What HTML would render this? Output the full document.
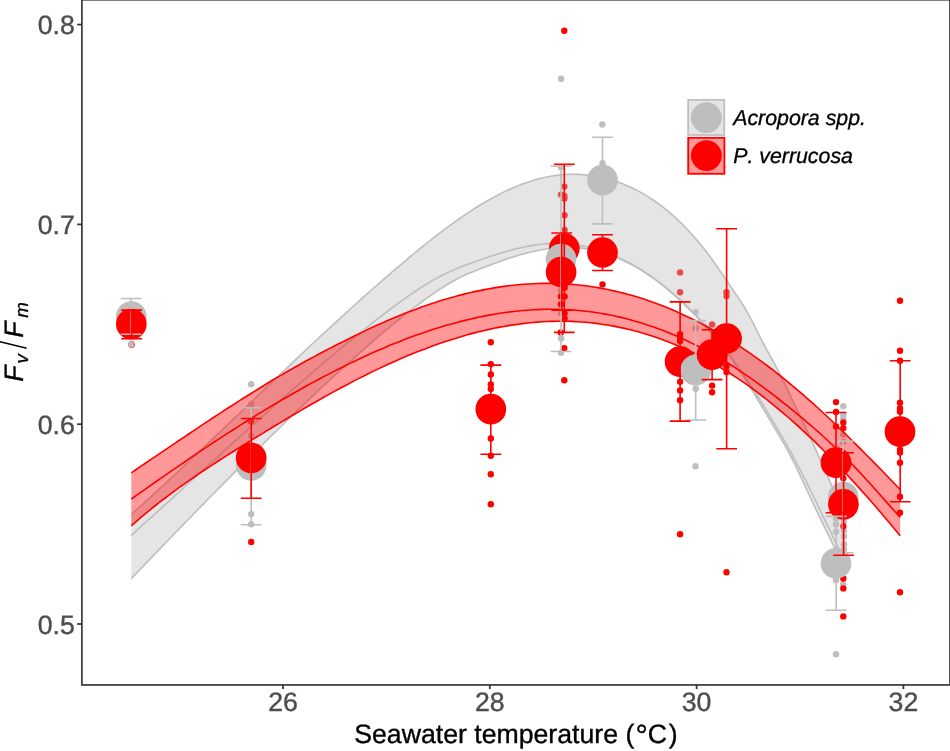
<!DOCTYPE html>
<html lang="en">
<head>
<meta charset="utf-8">
<title>Fv/Fm vs seawater temperature</title>
<style>
html,body{margin:0;padding:0;background:#fff;}
body{width:950px;height:751px;overflow:hidden;font-family:"Liberation Sans",Arial,sans-serif;}
svg{display:block;will-change:transform;}
svg text{font-kerning:none;text-rendering:geometricPrecision;}
</style>
</head>
<body>
<svg width="950" height="751" viewBox="0 0 950 751" font-family="'Liberation Sans', Arial, sans-serif">
<rect width="950" height="751" fill="#fff"/>
<defs><clipPath id="pc"><rect x="82" y="0" width="867.5" height="685"/></clipPath></defs>
<g clip-path="url(#pc)">
<circle cx="131.5" cy="344.5" r="3.35" fill="#ff0000"/>
<g fill="#bebebe"><circle cx="131.2" cy="344.5" r="3.0"/><circle cx="251.2" cy="384.2" r="3.2"/><circle cx="251.3" cy="404.3" r="3.2"/><circle cx="251.2" cy="436.0" r="3.2"/><circle cx="251.2" cy="514.1" r="3.2"/><circle cx="251.2" cy="524.2" r="3.2"/><circle cx="561.1" cy="78.7" r="3.2"/><circle cx="561" cy="167.3" r="3.2"/><circle cx="561" cy="290.7" r="3.2"/><circle cx="561" cy="312.9" r="3.2"/><circle cx="561.1" cy="338.5" r="3.2"/><circle cx="561.1" cy="352.7" r="3.2"/><circle cx="602.3" cy="124.5" r="3.2"/><circle cx="602.5" cy="163.2" r="3.2"/><circle cx="695.7" cy="312.1" r="3.2"/><circle cx="695.7" cy="328.2" r="3.2"/><circle cx="695.7" cy="388.7" r="3.2"/><circle cx="695.5" cy="466.2" r="3.2"/><circle cx="843.3" cy="406.3" r="3.2"/><circle cx="843.3" cy="414.6" r="3.2"/><circle cx="843.3" cy="418.4" r="3.2"/><circle cx="843.3" cy="434.5" r="3.2"/><circle cx="843.3" cy="442.3" r="3.2"/><circle cx="836" cy="518.6" r="3.2"/><circle cx="836" cy="524.2" r="3.2"/><circle cx="836" cy="531.8" r="3.2"/><circle cx="844.0" cy="521.5" r="3.2"/><circle cx="844.0" cy="530.6" r="3.2"/><circle cx="844.0" cy="536.4" r="3.2"/><circle cx="844.0" cy="544.2" r="3.2"/><circle cx="844.0" cy="549.5" r="3.2"/><circle cx="843.2" cy="584.2" r="3.2"/><circle cx="836" cy="580.2" r="3.2"/><circle cx="836" cy="654.2" r="3.2"/></g>
<g fill="#ff0000"><circle cx="251.2" cy="542" r="3.2"/><circle cx="251.2" cy="421.6" r="3.2"/><circle cx="490.8" cy="342.2" r="3.2"/><circle cx="490.8" cy="364.1" r="3.2"/><circle cx="490.8" cy="374.4" r="3.2"/><circle cx="490.8" cy="384.4" r="3.2"/><circle cx="490.8" cy="388.9" r="3.2"/><circle cx="490.8" cy="438.4" r="3.2"/><circle cx="490.8" cy="455.8" r="3.2"/><circle cx="490.8" cy="474.3" r="3.2"/><circle cx="490.8" cy="504.2" r="3.2"/><circle cx="564.3" cy="30.8" r="3.2"/><circle cx="561" cy="194.6" r="3.2"/><circle cx="564.4" cy="186.6" r="3.2"/><circle cx="564.4" cy="195.9" r="3.2"/><circle cx="564.4" cy="198.4" r="3.2"/><circle cx="564.6" cy="215.3" r="3.2"/><circle cx="564.6" cy="230" r="3.2"/><circle cx="564.6" cy="287.8" r="3.2"/><circle cx="564.6" cy="296.4" r="3.2"/><circle cx="561" cy="296.4" r="3.2"/><circle cx="561" cy="304.2" r="3.2"/><circle cx="564.6" cy="312.9" r="3.2"/><circle cx="564.6" cy="318.4" r="3.2"/><circle cx="560.8" cy="332.4" r="3.2"/><circle cx="564.3" cy="348.3" r="3.2"/><circle cx="564.3" cy="380.3" r="3.2"/><circle cx="602.5" cy="284.4" r="3.2"/><circle cx="680.1" cy="272.4" r="3.2"/><circle cx="680.1" cy="292.3" r="3.2"/><circle cx="680.1" cy="334.2" r="3.2"/><circle cx="680.1" cy="337.7" r="3.2"/><circle cx="680.1" cy="341" r="3.2"/><circle cx="680.1" cy="381.8" r="3.2"/><circle cx="680.1" cy="390.4" r="3.2"/><circle cx="680.1" cy="400.3" r="3.2"/><circle cx="680.1" cy="534.3" r="3.2"/><circle cx="712.1" cy="324.5" r="3.2"/><circle cx="712.1" cy="385.6" r="3.2"/><circle cx="712.1" cy="392.2" r="3.2"/><circle cx="726.5" cy="292.3" r="3.2"/><circle cx="726.5" cy="296" r="3.2"/><circle cx="726.5" cy="366.2" r="3.2"/><circle cx="726.5" cy="372" r="3.2"/><circle cx="726.5" cy="572.2" r="3.2"/><circle cx="836" cy="402.1" r="3.2"/><circle cx="836" cy="412" r="3.2"/><circle cx="836" cy="426.4" r="3.2"/><circle cx="843.3" cy="422.4" r="3.2"/><circle cx="843.3" cy="428.1" r="3.2"/><circle cx="843.3" cy="478.3" r="3.2"/><circle cx="843.3" cy="526.2" r="3.2"/><circle cx="843.3" cy="578.5" r="3.2"/><circle cx="843.3" cy="588.4" r="3.2"/><circle cx="843.3" cy="616.4" r="3.2"/><circle cx="900" cy="300.7" r="3.2"/><circle cx="900" cy="350.7" r="3.2"/><circle cx="900" cy="360.7" r="3.2"/><circle cx="900" cy="402.7" r="3.2"/><circle cx="900" cy="408.3" r="3.2"/><circle cx="900" cy="411.7" r="3.2"/><circle cx="900" cy="449.8" r="3.2"/><circle cx="900" cy="452.6" r="3.2"/><circle cx="900" cy="462.7" r="3.2"/><circle cx="900" cy="496.7" r="3.2"/><circle cx="900" cy="512.7" r="3.2"/><circle cx="900" cy="592.2" r="3.2"/></g>
<path d="M131.3,514.5 L135.8,510.5 L140.3,506.5 L144.7,502.4 L149.2,498.3 L153.7,494.3 L158.2,490.1 L162.7,486.0 L167.1,481.9 L171.6,477.7 L176.1,473.5 L180.6,469.3 L185.0,465.1 L189.5,460.9 L194.0,456.7 L198.5,452.4 L203.0,448.2 L207.4,443.9 L211.9,439.7 L216.4,435.4 L220.9,431.1 L225.4,426.8 L229.8,422.5 L234.3,418.2 L238.8,414.0 L243.3,409.7 L247.7,405.4 L252.2,401.1 L256.7,396.8 L261.2,392.5 L265.7,388.2 L270.1,383.9 L274.6,379.6 L279.1,375.4 L283.6,371.1 L288.1,366.8 L292.5,362.6 L297.0,358.4 L301.5,354.1 L306.0,349.9 L310.4,345.7 L314.9,341.5 L319.4,337.3 L323.9,333.2 L328.4,329.0 L332.8,324.9 L337.3,320.8 L341.8,316.7 L346.3,312.6 L350.8,308.5 L355.2,304.5 L359.7,300.4 L364.2,296.4 L368.7,292.5 L373.1,288.5 L377.6,284.6 L382.1,280.7 L386.6,276.8 L391.1,272.9 L395.5,269.1 L400.0,265.3 L404.5,261.5 L409.0,257.7 L413.5,254.0 L417.9,250.3 L422.4,246.7 L426.9,243.1 L431.4,239.5 L435.8,236.0 L440.3,232.6 L444.8,229.2 L449.3,225.9 L453.8,222.6 L458.2,219.5 L462.7,216.4 L467.2,213.3 L471.7,210.4 L476.2,207.5 L480.6,204.8 L485.1,202.1 L489.6,199.5 L494.1,197.1 L498.5,194.7 L503.0,192.4 L507.5,190.3 L512.0,188.3 L516.5,186.4 L520.9,184.6 L525.4,183.0 L529.9,181.4 L534.4,180.1 L538.9,178.8 L543.3,177.7 L547.8,176.8 L552.3,176.0 L556.8,175.4 L561.2,174.9 L565.7,174.5 L570.2,174.3 L574.7,174.3 L579.2,174.4 L583.6,174.7 L588.1,175.1 L592.6,175.7 L597.1,176.4 L601.6,177.4 L606.0,178.4 L610.5,179.6 L615.0,181.0 L619.5,182.6 L623.9,184.3 L628.4,186.2 L632.9,188.3 L637.4,190.6 L641.9,193.0 L646.3,195.6 L650.8,198.5 L655.3,201.5 L659.8,204.7 L664.3,208.2 L668.7,211.8 L673.2,215.7 L677.7,219.8 L682.2,224.1 L686.6,228.7 L691.1,233.5 L695.6,238.6 L700.1,243.9 L704.6,249.5 L709.0,255.3 L713.5,261.5 L718.0,267.9 L722.5,274.5 L727.0,281.1 L731.4,287.6 L735.9,294.1 L740.4,300.9 L744.9,308.0 L749.3,315.8 L753.8,324.4 L758.3,333.6 L762.8,342.5 L767.3,350.7 L771.7,358.6 L776.2,366.8 L780.7,375.6 L785.2,384.9 L789.7,394.3 L794.1,403.6 L798.6,412.9 L803.1,422.3 L807.6,431.8 L812.0,441.4 L816.5,451.3 L821.0,461.4 L825.5,471.5 L830.0,481.6 L834.4,491.6 L838.9,501.5 L843.4,511.0 L843.4,565.0 L838.9,556.2 L834.4,547.3 L830.0,538.3 L825.5,529.1 L821.0,519.9 L816.5,510.5 L812.0,501.0 L807.6,491.4 L803.1,481.8 L798.6,472.2 L794.1,463.0 L789.7,454.2 L785.2,445.9 L780.7,438.1 L776.2,430.5 L771.7,423.0 L767.3,415.5 L762.8,408.0 L758.3,400.5 L753.8,393.0 L749.3,385.7 L744.9,378.6 L740.4,371.8 L735.9,365.2 L731.4,358.8 L727.0,352.7 L722.5,346.8 L718.0,341.2 L713.5,335.7 L709.0,330.5 L704.6,325.4 L700.1,320.4 L695.6,315.7 L691.1,311.1 L686.6,306.6 L682.2,302.3 L677.7,298.1 L673.2,294.2 L668.7,290.3 L664.3,286.6 L659.8,283.1 L655.3,279.7 L650.8,276.5 L646.3,273.5 L641.9,270.6 L637.4,267.9 L632.9,265.4 L628.4,263.0 L623.9,260.7 L619.5,258.7 L615.0,256.8 L610.5,255.1 L606.0,253.5 L601.6,252.2 L597.1,251.0 L592.6,249.9 L588.1,249.1 L583.6,248.4 L579.2,247.9 L574.7,247.5 L570.2,247.4 L565.7,247.4 L561.2,247.5 L556.8,247.8 L552.3,248.2 L547.8,248.8 L543.3,249.5 L538.9,250.3 L534.4,251.2 L529.9,252.3 L525.4,253.4 L520.9,254.6 L516.5,255.9 L512.0,257.3 L507.5,258.8 L503.0,260.3 L498.5,261.9 L494.1,263.5 L489.6,265.2 L485.1,266.9 L480.6,268.6 L476.2,270.4 L471.7,272.2 L467.2,274.1 L462.7,276.1 L458.2,278.3 L453.8,280.7 L449.3,283.3 L444.8,286.0 L440.3,288.9 L435.8,291.9 L431.4,295.0 L426.9,298.2 L422.4,301.5 L417.9,304.8 L413.5,308.2 L409.0,311.7 L404.5,315.2 L400.0,318.7 L395.5,322.3 L391.1,326.0 L386.6,329.7 L382.1,333.5 L377.6,337.3 L373.1,341.1 L368.7,345.0 L364.2,348.9 L359.7,352.9 L355.2,356.8 L350.8,360.9 L346.3,364.9 L341.8,369.0 L337.3,373.1 L332.8,377.2 L328.4,381.3 L323.9,385.5 L319.4,389.7 L314.9,393.9 L310.4,398.1 L306.0,402.4 L301.5,406.6 L297.0,410.9 L292.5,415.2 L288.1,419.5 L283.6,423.9 L279.1,428.2 L274.6,432.6 L270.1,437.0 L265.7,441.4 L261.2,445.8 L256.7,450.2 L252.2,454.7 L247.7,459.1 L243.3,463.6 L238.8,468.1 L234.3,472.6 L229.8,477.1 L225.4,481.6 L220.9,486.1 L216.4,490.7 L211.9,495.2 L207.4,499.8 L203.0,504.4 L198.5,509.0 L194.0,513.6 L189.5,518.2 L185.0,522.8 L180.6,527.4 L176.1,532.0 L171.6,536.7 L167.1,541.3 L162.7,545.9 L158.2,550.6 L153.7,555.3 L149.2,559.9 L144.7,564.6 L140.3,569.2 L135.8,573.9 L131.3,578.6Z" fill="rgba(190,190,190,0.4)" stroke="none"/>
<path d="M131.3,514.5 L135.8,510.5 L140.3,506.5 L144.7,502.4 L149.2,498.3 L153.7,494.3 L158.2,490.1 L162.7,486.0 L167.1,481.9 L171.6,477.7 L176.1,473.5 L180.6,469.3 L185.0,465.1 L189.5,460.9 L194.0,456.7 L198.5,452.4 L203.0,448.2 L207.4,443.9 L211.9,439.7 L216.4,435.4 L220.9,431.1 L225.4,426.8 L229.8,422.5 L234.3,418.2 L238.8,414.0 L243.3,409.7 L247.7,405.4 L252.2,401.1 L256.7,396.8 L261.2,392.5 L265.7,388.2 L270.1,383.9 L274.6,379.6 L279.1,375.4 L283.6,371.1 L288.1,366.8 L292.5,362.6 L297.0,358.4 L301.5,354.1 L306.0,349.9 L310.4,345.7 L314.9,341.5 L319.4,337.3 L323.9,333.2 L328.4,329.0 L332.8,324.9 L337.3,320.8 L341.8,316.7 L346.3,312.6 L350.8,308.5 L355.2,304.5 L359.7,300.4 L364.2,296.4 L368.7,292.5 L373.1,288.5 L377.6,284.6 L382.1,280.7 L386.6,276.8 L391.1,272.9 L395.5,269.1 L400.0,265.3 L404.5,261.5 L409.0,257.7 L413.5,254.0 L417.9,250.3 L422.4,246.7 L426.9,243.1 L431.4,239.5 L435.8,236.0 L440.3,232.6 L444.8,229.2 L449.3,225.9 L453.8,222.6 L458.2,219.5 L462.7,216.4 L467.2,213.3 L471.7,210.4 L476.2,207.5 L480.6,204.8 L485.1,202.1 L489.6,199.5 L494.1,197.1 L498.5,194.7 L503.0,192.4 L507.5,190.3 L512.0,188.3 L516.5,186.4 L520.9,184.6 L525.4,183.0 L529.9,181.4 L534.4,180.1 L538.9,178.8 L543.3,177.7 L547.8,176.8 L552.3,176.0 L556.8,175.4 L561.2,174.9 L565.7,174.5 L570.2,174.3 L574.7,174.3 L579.2,174.4 L583.6,174.7 L588.1,175.1 L592.6,175.7 L597.1,176.4 L601.6,177.4 L606.0,178.4 L610.5,179.6 L615.0,181.0 L619.5,182.6 L623.9,184.3 L628.4,186.2 L632.9,188.3 L637.4,190.6 L641.9,193.0 L646.3,195.6 L650.8,198.5 L655.3,201.5 L659.8,204.7 L664.3,208.2 L668.7,211.8 L673.2,215.7 L677.7,219.8 L682.2,224.1 L686.6,228.7 L691.1,233.5 L695.6,238.6 L700.1,243.9 L704.6,249.5 L709.0,255.3 L713.5,261.5 L718.0,267.9 L722.5,274.5 L727.0,281.1 L731.4,287.6 L735.9,294.1 L740.4,300.9 L744.9,308.0 L749.3,315.8 L753.8,324.4 L758.3,333.6 L762.8,342.5 L767.3,350.7 L771.7,358.6 L776.2,366.8 L780.7,375.6 L785.2,384.9 L789.7,394.3 L794.1,403.6 L798.6,412.9 L803.1,422.3 L807.6,431.8 L812.0,441.4 L816.5,451.3 L821.0,461.4 L825.5,471.5 L830.0,481.6 L834.4,491.6 L838.9,501.5 L843.4,511.0" fill="none" stroke="#bebebe" stroke-width="1.6" stroke-linejoin="round"/>
<path d="M131.3,578.6 L135.8,573.9 L140.3,569.2 L144.7,564.6 L149.2,559.9 L153.7,555.3 L158.2,550.6 L162.7,545.9 L167.1,541.3 L171.6,536.7 L176.1,532.0 L180.6,527.4 L185.0,522.8 L189.5,518.2 L194.0,513.6 L198.5,509.0 L203.0,504.4 L207.4,499.8 L211.9,495.2 L216.4,490.7 L220.9,486.1 L225.4,481.6 L229.8,477.1 L234.3,472.6 L238.8,468.1 L243.3,463.6 L247.7,459.1 L252.2,454.7 L256.7,450.2 L261.2,445.8 L265.7,441.4 L270.1,437.0 L274.6,432.6 L279.1,428.2 L283.6,423.9 L288.1,419.5 L292.5,415.2 L297.0,410.9 L301.5,406.6 L306.0,402.4 L310.4,398.1 L314.9,393.9 L319.4,389.7 L323.9,385.5 L328.4,381.3 L332.8,377.2 L337.3,373.1 L341.8,369.0 L346.3,364.9 L350.8,360.9 L355.2,356.8 L359.7,352.9 L364.2,348.9 L368.7,345.0 L373.1,341.1 L377.6,337.3 L382.1,333.5 L386.6,329.7 L391.1,326.0 L395.5,322.3 L400.0,318.7 L404.5,315.2 L409.0,311.7 L413.5,308.2 L417.9,304.8 L422.4,301.5 L426.9,298.2 L431.4,295.0 L435.8,291.9 L440.3,288.9 L444.8,286.0 L449.3,283.3 L453.8,280.7 L458.2,278.3 L462.7,276.1 L467.2,274.1 L471.7,272.2 L476.2,270.4 L480.6,268.6 L485.1,266.9 L489.6,265.2 L494.1,263.5 L498.5,261.9 L503.0,260.3 L507.5,258.8 L512.0,257.3 L516.5,255.9 L520.9,254.6 L525.4,253.4 L529.9,252.3 L534.4,251.2 L538.9,250.3 L543.3,249.5 L547.8,248.8 L552.3,248.2 L556.8,247.8 L561.2,247.5 L565.7,247.4 L570.2,247.4 L574.7,247.5 L579.2,247.9 L583.6,248.4 L588.1,249.1 L592.6,249.9 L597.1,251.0 L601.6,252.2 L606.0,253.5 L610.5,255.1 L615.0,256.8 L619.5,258.7 L623.9,260.7 L628.4,263.0 L632.9,265.4 L637.4,267.9 L641.9,270.6 L646.3,273.5 L650.8,276.5 L655.3,279.7 L659.8,283.1 L664.3,286.6 L668.7,290.3 L673.2,294.2 L677.7,298.1 L682.2,302.3 L686.6,306.6 L691.1,311.1 L695.6,315.7 L700.1,320.4 L704.6,325.4 L709.0,330.5 L713.5,335.7 L718.0,341.2 L722.5,346.8 L727.0,352.7 L731.4,358.8 L735.9,365.2 L740.4,371.8 L744.9,378.6 L749.3,385.7 L753.8,393.0 L758.3,400.5 L762.8,408.0 L767.3,415.5 L771.7,423.0 L776.2,430.5 L780.7,438.1 L785.2,445.9 L789.7,454.2 L794.1,463.0 L798.6,472.2 L803.1,481.8 L807.6,491.4 L812.0,501.0 L816.5,510.5 L821.0,519.9 L825.5,529.1 L830.0,538.3 L834.4,547.3 L838.9,556.2 L843.4,565.0" fill="none" stroke="#bebebe" stroke-width="1.6" stroke-linejoin="round"/>
<path d="M131.3,535.3 L135.8,531.3 L140.3,527.2 L144.7,523.2 L149.2,519.1 L153.7,515.1 L158.2,511.0 L162.7,506.9 L167.1,502.9 L171.6,498.8 L176.1,494.7 L180.6,490.6 L185.0,486.5 L189.5,482.4 L194.0,478.4 L198.5,474.3 L203.0,470.2 L207.4,466.1 L211.9,462.0 L216.4,457.9 L220.9,453.9 L225.4,449.8 L229.8,445.7 L234.3,441.7 L238.8,437.6 L243.3,433.6 L247.7,429.5 L252.2,425.5 L256.7,421.5 L261.2,417.5 L265.7,413.5 L270.1,409.5 L274.6,405.5 L279.1,401.5 L283.6,397.6 L288.1,393.6 L292.5,389.7 L297.0,385.8 L301.5,381.9 L306.0,378.0 L310.4,374.1 L314.9,370.3 L319.4,366.5 L323.9,362.7 L328.4,358.9 L332.8,355.1 L337.3,351.4 L341.8,347.7 L346.3,344.0 L350.8,340.3 L355.2,336.7 L359.7,333.1 L364.2,329.5 L368.7,325.9 L373.1,322.4 L377.6,318.9 L382.1,315.5 L386.6,312.0 L391.1,308.7 L395.5,305.3 L400.0,302.0 L404.5,298.8 L409.0,295.6 L413.5,292.5 L417.9,289.5 L422.4,286.6 L426.9,283.8 L431.4,281.1 L435.8,278.6 L440.3,276.2 L444.8,274.0 L449.3,271.9 L453.8,269.9 L458.2,268.0 L462.7,266.3 L467.2,264.6 L471.7,262.9 L476.2,261.3 L480.6,259.8 L485.1,258.2 L489.6,256.7 L494.1,255.3 L498.5,253.8 L503.0,252.5 L507.5,251.2 L512.0,249.9 L516.5,248.8 L520.9,247.7 L525.4,246.7 L529.9,245.9 L534.4,245.1 L538.9,244.5 L543.3,244.0 L547.8,243.6 L552.3,243.4 L556.8,243.3 L561.2,243.4 L565.7,243.7 L570.2,244.0 L574.7,244.6 L579.2,245.2 L583.6,246.0 L588.1,247.0 L592.6,248.1 L597.1,249.4 L601.6,250.8 L606.0,252.4 L610.5,254.1 L615.0,255.9 L619.5,257.9 L623.9,260.1 L628.4,262.4 L632.9,264.8 L637.4,267.4 L641.9,270.2 L646.3,273.1 L650.8,276.1 L655.3,279.3 L659.8,282.7 L664.3,286.2 L668.7,289.8 L673.2,293.6 L677.7,297.5 L682.2,301.6 L686.6,305.9 L691.1,310.3 L695.6,314.8 L700.1,319.5 L704.6,324.4 L709.0,329.4 L713.5,334.7 L718.0,340.1 L722.5,345.7 L727.0,351.4 L731.4,357.4 L735.9,363.6 L740.4,370.0 L744.9,376.5 L749.3,383.3 L753.8,390.2 L758.3,397.2 L762.8,404.4 L767.3,411.7 L771.7,419.1 L776.2,426.7 L780.7,434.3 L785.2,442.2 L789.7,450.2 L794.1,458.4 L798.6,466.8 L803.1,475.5 L807.6,484.4 L812.0,493.5 L816.5,502.7 L821.0,512.0 L825.5,521.3 L830.0,530.6 L834.4,539.9 L838.9,549.0 L843.4,558.0" fill="none" stroke="#bebebe" stroke-width="1.6" stroke-linejoin="round"/>
<path d="M131.3,472.8 L136.1,469.5 L141.0,466.2 L145.8,463.0 L150.6,459.7 L155.5,456.4 L160.3,453.1 L165.2,449.8 L170.0,446.6 L174.8,443.3 L179.7,440.0 L184.5,436.8 L189.3,433.5 L194.2,430.3 L199.0,427.1 L203.8,423.8 L208.7,420.6 L213.5,417.5 L218.3,414.3 L223.2,411.1 L228.0,408.0 L232.9,404.9 L237.7,401.8 L242.5,398.7 L247.4,395.7 L252.2,392.7 L257.0,389.7 L261.9,386.7 L266.7,383.7 L271.5,380.8 L276.4,377.9 L281.2,375.1 L286.0,372.3 L290.9,369.5 L295.7,366.7 L300.6,364.0 L305.4,361.3 L310.2,358.7 L315.1,356.1 L319.9,353.5 L324.7,351.0 L329.6,348.4 L334.4,346.0 L339.2,343.5 L344.1,341.1 L348.9,338.7 L353.7,336.3 L358.6,334.0 L363.4,331.6 L368.3,329.3 L373.1,327.1 L377.9,324.8 L382.8,322.7 L387.6,320.5 L392.4,318.5 L397.3,316.4 L402.1,314.5 L406.9,312.6 L411.8,310.7 L416.6,308.9 L421.5,307.1 L426.3,305.4 L431.1,303.8 L436.0,302.2 L440.8,300.6 L445.6,299.2 L450.5,297.8 L455.3,296.4 L460.1,295.1 L465.0,293.9 L469.8,292.7 L474.6,291.6 L479.5,290.6 L484.3,289.6 L489.2,288.7 L494.0,287.9 L498.8,287.1 L503.7,286.4 L508.5,285.8 L513.3,285.2 L518.2,284.7 L523.0,284.3 L527.8,284.0 L532.7,283.7 L537.5,283.5 L542.3,283.4 L547.2,283.4 L552.0,283.4 L556.9,283.5 L561.7,283.7 L566.5,284.0 L571.4,284.3 L576.2,284.8 L581.0,285.3 L585.9,285.8 L590.7,286.5 L595.5,287.3 L600.4,288.1 L605.2,289.0 L610.0,290.0 L614.9,291.1 L619.7,292.2 L624.6,293.4 L629.4,294.7 L634.2,296.1 L639.1,297.6 L643.9,299.1 L648.7,300.8 L653.6,302.5 L658.4,304.3 L663.2,306.1 L668.1,308.1 L672.9,310.1 L677.8,312.2 L682.6,314.4 L687.4,316.7 L692.3,319.0 L697.1,321.4 L701.9,323.9 L706.8,326.5 L711.6,329.2 L716.4,331.9 L721.3,334.8 L726.1,337.7 L730.9,340.7 L735.8,343.7 L740.6,346.9 L745.5,350.1 L750.3,353.4 L755.1,356.8 L760.0,360.3 L764.8,363.8 L769.6,367.5 L774.5,371.2 L779.3,375.0 L784.1,378.8 L789.0,382.8 L793.8,386.8 L798.6,390.9 L803.5,395.1 L808.3,399.3 L813.2,403.7 L818.0,408.0 L822.8,412.5 L827.7,417.0 L832.5,421.5 L837.3,426.2 L842.2,430.8 L847.0,435.5 L851.8,440.3 L856.7,445.1 L861.5,449.9 L866.3,454.8 L871.2,459.6 L876.0,464.6 L880.9,469.5 L885.7,474.5 L890.5,479.5 L895.4,484.5 L900.2,489.5 L900.2,535.8 L895.4,529.9 L890.5,524.1 L885.7,518.4 L880.9,512.7 L876.0,507.1 L871.2,501.5 L866.3,496.0 L861.5,490.6 L856.7,485.2 L851.8,479.9 L847.0,474.7 L842.2,469.6 L837.3,464.5 L832.5,459.5 L827.7,454.6 L822.8,449.7 L818.0,444.9 L813.2,440.2 L808.3,435.6 L803.5,431.1 L798.6,426.7 L793.8,422.3 L789.0,418.0 L784.1,413.9 L779.3,409.8 L774.5,405.8 L769.6,401.9 L764.8,398.0 L760.0,394.3 L755.1,390.7 L750.3,387.2 L745.5,383.7 L740.6,380.4 L735.8,377.2 L730.9,374.0 L726.1,371.0 L721.3,368.1 L716.4,365.2 L711.6,362.4 L706.8,359.8 L701.9,357.2 L697.1,354.7 L692.3,352.3 L687.4,350.1 L682.6,347.9 L677.8,345.7 L672.9,343.7 L668.1,341.8 L663.2,340.0 L658.4,338.2 L653.6,336.5 L648.7,335.0 L643.9,333.5 L639.1,332.1 L634.2,330.8 L629.4,329.5 L624.6,328.4 L619.7,327.4 L614.9,326.4 L610.0,325.5 L605.2,324.7 L600.4,324.0 L595.5,323.4 L590.7,322.8 L585.9,322.3 L581.0,322.0 L576.2,321.7 L571.4,321.4 L566.5,321.3 L561.7,321.2 L556.9,321.3 L552.0,321.4 L547.2,321.5 L542.3,321.8 L537.5,322.1 L532.7,322.5 L527.8,323.0 L523.0,323.6 L518.2,324.2 L513.3,324.9 L508.5,325.6 L503.7,326.5 L498.8,327.4 L494.0,328.3 L489.2,329.4 L484.3,330.5 L479.5,331.6 L474.6,332.9 L469.8,334.1 L465.0,335.5 L460.1,336.9 L455.3,338.4 L450.5,339.9 L445.6,341.5 L440.8,343.1 L436.0,344.8 L431.1,346.6 L426.3,348.4 L421.5,350.2 L416.6,352.1 L411.8,354.1 L406.9,356.1 L402.1,358.1 L397.3,360.2 L392.4,362.4 L387.6,364.6 L382.8,366.8 L377.9,369.1 L373.1,371.4 L368.3,373.8 L363.4,376.2 L358.6,378.6 L353.7,381.1 L348.9,383.7 L344.1,386.2 L339.2,388.8 L334.4,391.4 L329.6,394.1 L324.7,396.8 L319.9,399.5 L315.1,402.3 L310.2,405.0 L305.4,407.8 L300.6,410.6 L295.7,413.5 L290.9,416.3 L286.0,419.2 L281.2,422.1 L276.4,425.0 L271.5,428.0 L266.7,430.9 L261.9,433.9 L257.0,436.8 L252.2,439.8 L247.4,442.8 L242.5,445.8 L237.7,448.8 L232.9,451.8 L228.0,454.8 L223.2,457.9 L218.3,461.0 L213.5,464.1 L208.7,467.3 L203.8,470.5 L199.0,473.7 L194.2,477.0 L189.3,480.4 L184.5,483.8 L179.7,487.2 L174.8,490.8 L170.0,494.3 L165.2,498.0 L160.3,501.7 L155.5,505.5 L150.6,509.4 L145.8,513.4 L141.0,517.4 L136.1,521.6 L131.3,525.8Z" fill="rgba(255,0,0,0.4)" stroke="none"/>
<path d="M131.3,472.8 L136.1,469.5 L141.0,466.2 L145.8,463.0 L150.6,459.7 L155.5,456.4 L160.3,453.1 L165.2,449.8 L170.0,446.6 L174.8,443.3 L179.7,440.0 L184.5,436.8 L189.3,433.5 L194.2,430.3 L199.0,427.1 L203.8,423.8 L208.7,420.6 L213.5,417.5 L218.3,414.3 L223.2,411.1 L228.0,408.0 L232.9,404.9 L237.7,401.8 L242.5,398.7 L247.4,395.7 L252.2,392.7 L257.0,389.7 L261.9,386.7 L266.7,383.7 L271.5,380.8 L276.4,377.9 L281.2,375.1 L286.0,372.3 L290.9,369.5 L295.7,366.7 L300.6,364.0 L305.4,361.3 L310.2,358.7 L315.1,356.1 L319.9,353.5 L324.7,351.0 L329.6,348.4 L334.4,346.0 L339.2,343.5 L344.1,341.1 L348.9,338.7 L353.7,336.3 L358.6,334.0 L363.4,331.6 L368.3,329.3 L373.1,327.1 L377.9,324.8 L382.8,322.7 L387.6,320.5 L392.4,318.5 L397.3,316.4 L402.1,314.5 L406.9,312.6 L411.8,310.7 L416.6,308.9 L421.5,307.1 L426.3,305.4 L431.1,303.8 L436.0,302.2 L440.8,300.6 L445.6,299.2 L450.5,297.8 L455.3,296.4 L460.1,295.1 L465.0,293.9 L469.8,292.7 L474.6,291.6 L479.5,290.6 L484.3,289.6 L489.2,288.7 L494.0,287.9 L498.8,287.1 L503.7,286.4 L508.5,285.8 L513.3,285.2 L518.2,284.7 L523.0,284.3 L527.8,284.0 L532.7,283.7 L537.5,283.5 L542.3,283.4 L547.2,283.4 L552.0,283.4 L556.9,283.5 L561.7,283.7 L566.5,284.0 L571.4,284.3 L576.2,284.8 L581.0,285.3 L585.9,285.8 L590.7,286.5 L595.5,287.3 L600.4,288.1 L605.2,289.0 L610.0,290.0 L614.9,291.1 L619.7,292.2 L624.6,293.4 L629.4,294.7 L634.2,296.1 L639.1,297.6 L643.9,299.1 L648.7,300.8 L653.6,302.5 L658.4,304.3 L663.2,306.1 L668.1,308.1 L672.9,310.1 L677.8,312.2 L682.6,314.4 L687.4,316.7 L692.3,319.0 L697.1,321.4 L701.9,323.9 L706.8,326.5 L711.6,329.2 L716.4,331.9 L721.3,334.8 L726.1,337.7 L730.9,340.7 L735.8,343.7 L740.6,346.9 L745.5,350.1 L750.3,353.4 L755.1,356.8 L760.0,360.3 L764.8,363.8 L769.6,367.5 L774.5,371.2 L779.3,375.0 L784.1,378.8 L789.0,382.8 L793.8,386.8 L798.6,390.9 L803.5,395.1 L808.3,399.3 L813.2,403.7 L818.0,408.0 L822.8,412.5 L827.7,417.0 L832.5,421.5 L837.3,426.2 L842.2,430.8 L847.0,435.5 L851.8,440.3 L856.7,445.1 L861.5,449.9 L866.3,454.8 L871.2,459.6 L876.0,464.6 L880.9,469.5 L885.7,474.5 L890.5,479.5 L895.4,484.5 L900.2,489.5" fill="none" stroke="#ff0000" stroke-width="1.6" stroke-linejoin="round"/>
<path d="M131.3,525.8 L136.1,521.6 L141.0,517.4 L145.8,513.4 L150.6,509.4 L155.5,505.5 L160.3,501.7 L165.2,498.0 L170.0,494.3 L174.8,490.8 L179.7,487.2 L184.5,483.8 L189.3,480.4 L194.2,477.0 L199.0,473.7 L203.8,470.5 L208.7,467.3 L213.5,464.1 L218.3,461.0 L223.2,457.9 L228.0,454.8 L232.9,451.8 L237.7,448.8 L242.5,445.8 L247.4,442.8 L252.2,439.8 L257.0,436.8 L261.9,433.9 L266.7,430.9 L271.5,428.0 L276.4,425.0 L281.2,422.1 L286.0,419.2 L290.9,416.3 L295.7,413.5 L300.6,410.6 L305.4,407.8 L310.2,405.0 L315.1,402.3 L319.9,399.5 L324.7,396.8 L329.6,394.1 L334.4,391.4 L339.2,388.8 L344.1,386.2 L348.9,383.7 L353.7,381.1 L358.6,378.6 L363.4,376.2 L368.3,373.8 L373.1,371.4 L377.9,369.1 L382.8,366.8 L387.6,364.6 L392.4,362.4 L397.3,360.2 L402.1,358.1 L406.9,356.1 L411.8,354.1 L416.6,352.1 L421.5,350.2 L426.3,348.4 L431.1,346.6 L436.0,344.8 L440.8,343.1 L445.6,341.5 L450.5,339.9 L455.3,338.4 L460.1,336.9 L465.0,335.5 L469.8,334.1 L474.6,332.9 L479.5,331.6 L484.3,330.5 L489.2,329.4 L494.0,328.3 L498.8,327.4 L503.7,326.5 L508.5,325.6 L513.3,324.9 L518.2,324.2 L523.0,323.6 L527.8,323.0 L532.7,322.5 L537.5,322.1 L542.3,321.8 L547.2,321.5 L552.0,321.4 L556.9,321.3 L561.7,321.2 L566.5,321.3 L571.4,321.4 L576.2,321.7 L581.0,322.0 L585.9,322.3 L590.7,322.8 L595.5,323.4 L600.4,324.0 L605.2,324.7 L610.0,325.5 L614.9,326.4 L619.7,327.4 L624.6,328.4 L629.4,329.5 L634.2,330.8 L639.1,332.1 L643.9,333.5 L648.7,335.0 L653.6,336.5 L658.4,338.2 L663.2,340.0 L668.1,341.8 L672.9,343.7 L677.8,345.7 L682.6,347.9 L687.4,350.1 L692.3,352.3 L697.1,354.7 L701.9,357.2 L706.8,359.8 L711.6,362.4 L716.4,365.2 L721.3,368.1 L726.1,371.0 L730.9,374.0 L735.8,377.2 L740.6,380.4 L745.5,383.7 L750.3,387.2 L755.1,390.7 L760.0,394.3 L764.8,398.0 L769.6,401.9 L774.5,405.8 L779.3,409.8 L784.1,413.9 L789.0,418.0 L793.8,422.3 L798.6,426.7 L803.5,431.1 L808.3,435.6 L813.2,440.2 L818.0,444.9 L822.8,449.7 L827.7,454.6 L832.5,459.5 L837.3,464.5 L842.2,469.6 L847.0,474.7 L851.8,479.9 L856.7,485.2 L861.5,490.6 L866.3,496.0 L871.2,501.5 L876.0,507.1 L880.9,512.7 L885.7,518.4 L890.5,524.1 L895.4,529.9 L900.2,535.8" fill="none" stroke="#ff0000" stroke-width="1.6" stroke-linejoin="round"/>
<path d="M131.3,499.0 L136.1,495.6 L141.0,492.2 L145.8,488.8 L150.6,485.4 L155.5,482.0 L160.3,478.6 L165.2,475.3 L170.0,471.9 L174.8,468.6 L179.7,465.3 L184.5,462.0 L189.3,458.7 L194.2,455.4 L199.0,452.2 L203.8,448.9 L208.7,445.7 L213.5,442.5 L218.3,439.4 L223.2,436.2 L228.0,433.1 L232.9,430.0 L237.7,426.9 L242.5,423.9 L247.4,420.8 L252.2,417.8 L257.0,414.8 L261.9,411.9 L266.7,408.9 L271.5,406.0 L276.4,403.2 L281.2,400.3 L286.0,397.5 L290.9,394.7 L295.7,392.0 L300.6,389.2 L305.4,386.5 L310.2,383.9 L315.1,381.3 L319.9,378.7 L324.7,376.1 L329.6,373.6 L334.4,371.1 L339.2,368.7 L344.1,366.2 L348.9,363.9 L353.7,361.5 L358.6,359.2 L363.4,357.0 L368.3,354.8 L373.1,352.6 L377.9,350.5 L382.8,348.4 L387.6,346.3 L392.4,344.3 L397.3,342.4 L402.1,340.5 L406.9,338.6 L411.8,336.8 L416.6,335.1 L421.5,333.4 L426.3,331.7 L431.1,330.1 L436.0,328.5 L440.8,327.0 L445.6,325.6 L450.5,324.2 L455.3,322.9 L460.1,321.6 L465.0,320.4 L469.8,319.2 L474.6,318.1 L479.5,317.0 L484.3,316.1 L489.2,315.1 L494.0,314.3 L498.8,313.5 L503.7,312.8 L508.5,312.1 L513.3,311.5 L518.2,311.0 L523.0,310.5 L527.8,310.2 L532.7,309.8 L537.5,309.6 L542.3,309.4 L547.2,309.3 L552.0,309.3 L556.9,309.3 L561.7,309.5 L566.5,309.7 L571.4,309.9 L576.2,310.3 L581.0,310.7 L585.9,311.2 L590.7,311.8 L595.5,312.5 L600.4,313.3 L605.2,314.1 L610.0,315.0 L614.9,316.0 L619.7,317.1 L624.6,318.3 L629.4,319.5 L634.2,320.9 L639.1,322.3 L643.9,323.8 L648.7,325.4 L653.6,327.0 L658.4,328.8 L663.2,330.6 L668.1,332.5 L672.9,334.5 L677.8,336.6 L682.6,338.8 L687.4,341.0 L692.3,343.4 L697.1,345.8 L701.9,348.3 L706.8,350.9 L711.6,353.5 L716.4,356.3 L721.3,359.1 L726.1,362.0 L730.9,365.0 L735.8,368.1 L740.6,371.3 L745.5,374.6 L750.3,377.9 L755.1,381.3 L760.0,384.8 L764.8,388.4 L769.6,392.0 L774.5,395.7 L779.3,399.5 L784.1,403.3 L789.0,407.2 L793.8,411.1 L798.6,415.1 L803.5,419.2 L808.3,423.3 L813.2,427.5 L818.0,431.7 L822.8,436.0 L827.7,440.5 L832.5,445.0 L837.3,449.6 L842.2,454.3 L847.0,459.1 L851.8,464.0 L856.7,469.1 L861.5,474.2 L866.3,479.5 L871.2,484.8 L876.0,490.2 L880.9,495.7 L885.7,501.1 L890.5,506.6 L895.4,512.0 L900.2,517.4" fill="none" stroke="#ff0000" stroke-width="1.6" stroke-linejoin="round"/>
<circle cx="131.3" cy="316.6" r="15.35" fill="#bebebe"/><circle cx="131.3" cy="324.1" r="15.35" fill="#ff0000"/><circle cx="251.2" cy="465.3" r="15.35" fill="#bebebe"/><circle cx="251.2" cy="457.9" r="15.35" fill="#ff0000"/><circle cx="490.8" cy="409.2" r="15.35" fill="#ff0000"/><circle cx="564.3" cy="248.6" r="15.35" fill="#ff0000"/><circle cx="561.05" cy="259.0" r="15.35" fill="#bebebe"/><circle cx="561.1" cy="272.0" r="15.35" fill="#ff0000"/><circle cx="602.5" cy="180.2" r="15.35" fill="#bebebe"/><circle cx="602.5" cy="252.5" r="15.35" fill="#ff0000"/><circle cx="680.1" cy="361.6" r="15.35" fill="#ff0000"/><circle cx="695.7" cy="370.2" r="15.35" fill="#bebebe"/><circle cx="726.6" cy="338.5" r="15.35" fill="#ff0000"/><circle cx="712.1" cy="354.6" r="15.35" fill="#ff0000"/><circle cx="836" cy="462.7" r="15.35" fill="#ff0000"/><circle cx="843.3" cy="497" r="15.35" fill="#bebebe"/><circle cx="843.4" cy="504.3" r="15.35" fill="#ff0000"/><circle cx="836" cy="563.4" r="15.35" fill="#bebebe"/><circle cx="900" cy="431.7" r="15.35" fill="#ff0000"/>
<path d="M120.7,298.5H141.5M120.7,334.3H141.5M131.1,298.5V334.3" stroke="#bebebe" stroke-width="1.6" fill="none"/>
<path d="M240.8,407.8H261.6M240.8,524.8H261.6M251.2,407.8V524.8" stroke="#bebebe" stroke-width="1.6" fill="none"/>
<path d="M550.6,166.3H571.4M550.6,351.5H571.4M561.05,166.3V351.5" stroke="#bebebe" stroke-width="1.6" fill="none"/>
<path d="M592.1,137.3H612.9M592.1,223.9H612.9M602.5,137.3V223.9" stroke="#bebebe" stroke-width="1.6" fill="none"/>
<path d="M685.3,320.5H706.1M685.3,420H706.1M695.7,320.5V420" stroke="#bebebe" stroke-width="1.6" fill="none"/>
<path d="M832.7,441.1H853.5M832.7,552.7H853.5M843.1,441.1V552.7" stroke="#bebebe" stroke-width="1.6" fill="none"/>
<path d="M825.8,516.4H846.6M825.8,610.3H846.6M836.2,516.4V610.3" stroke="#bebebe" stroke-width="1.6" fill="none"/>
<path d="M121.2,310.1H142.0M121.2,338.8H142.0M131.6,310.1V338.8" stroke="#ff0000" stroke-width="1.6" fill="none"/>
<path d="M240.8,418.5H261.6M240.8,498.3H261.6M251.2,418.5V498.3" stroke="#ff0000" stroke-width="1.6" fill="none"/>
<path d="M480.4,365.1H501.2M480.4,454.3H501.2M490.8,365.1V454.3" stroke="#ff0000" stroke-width="1.6" fill="none"/>
<path d="M553.9,164.3H574.7M553.9,332.4H574.7M564.3,164.3V332.4" stroke="#ff0000" stroke-width="1.6" fill="none"/>
<path d="M551.3,233H572.1M551.3,310.3H572.1M561.7,233V310.3" stroke="#ff0000" stroke-width="1.6" fill="none"/>
<path d="M592.1,234.7H612.9M592.1,270.5H612.9M602.5,234.7V270.5" stroke="#ff0000" stroke-width="1.6" fill="none"/>
<path d="M669.7,301.9H690.5M669.7,421.1H690.5M680.1,301.9V421.1" stroke="#ff0000" stroke-width="1.6" fill="none"/>
<path d="M701.7,329.7H722.5M701.7,379.6H722.5M712.1,329.7V379.6" stroke="#ff0000" stroke-width="1.6" fill="none"/>
<path d="M716.2,228.8H737.0M716.2,448.8H737.0M726.6,228.8V448.8" stroke="#ff0000" stroke-width="1.6" fill="none"/>
<path d="M825.6,412.5H846.4M825.6,512.7H846.4M836,412.5V512.7" stroke="#ff0000" stroke-width="1.6" fill="none"/>
<path d="M833.2,452.7H854.0M833.2,555.3H854.0M843.6,452.7V555.3" stroke="#ff0000" stroke-width="1.6" fill="none"/>
<path d="M889.8,360.7H910.6M889.8,501.7H910.6M900.2,360.7V501.7" stroke="#ff0000" stroke-width="1.6" fill="none"/>
</g>
<rect x="81.9" y="-0.21" width="868.1" height="685.16" fill="none" stroke="#333" stroke-width="1.65"/>
<path d="M77.2,24.6H82" stroke="#333" stroke-width="1.75"/>
<text x="74.8" y="34.2" font-size="26.67" fill="#4d4d4d" stroke="#4d4d4d" stroke-width="0.4" text-anchor="end">0.8</text>
<path d="M77.2,224.4H82" stroke="#333" stroke-width="1.75"/>
<text x="74.8" y="234.0" font-size="26.67" fill="#4d4d4d" stroke="#4d4d4d" stroke-width="0.4" text-anchor="end">0.7</text>
<path d="M77.2,424.2H82" stroke="#333" stroke-width="1.75"/>
<text x="74.8" y="433.8" font-size="26.67" fill="#4d4d4d" stroke="#4d4d4d" stroke-width="0.4" text-anchor="end">0.6</text>
<path d="M77.2,624.0H82" stroke="#333" stroke-width="1.75"/>
<text x="74.8" y="633.6" font-size="26.67" fill="#4d4d4d" stroke="#4d4d4d" stroke-width="0.4" text-anchor="end">0.5</text>
<path d="M283.0,685V689.0" stroke="#333" stroke-width="1.75"/>
<text x="283.0" y="711.4" font-size="26.67" fill="#4d4d4d" stroke="#4d4d4d" stroke-width="0.4" text-anchor="middle">26</text>
<path d="M489.8,685V689.0" stroke="#333" stroke-width="1.75"/>
<text x="489.8" y="711.4" font-size="26.67" fill="#4d4d4d" stroke="#4d4d4d" stroke-width="0.4" text-anchor="middle">28</text>
<path d="M696.6,685V689.0" stroke="#333" stroke-width="1.75"/>
<text x="696.6" y="711.4" font-size="26.67" fill="#4d4d4d" stroke="#4d4d4d" stroke-width="0.4" text-anchor="middle">30</text>
<path d="M903.4,685V689.0" stroke="#333" stroke-width="1.75"/>
<text x="903.4" y="711.4" font-size="26.67" fill="#4d4d4d" stroke="#4d4d4d" stroke-width="0.4" text-anchor="middle">32</text>
<text x="516.0" y="743.3" font-size="26.67" fill="#000" stroke="#000" stroke-width="0.35" text-anchor="middle">Seawater temperature (<tspan dx="1.1" dy="2.9" font-size="30.7">°</tspan><tspan dx="0.1" dy="-2.9">C</tspan><tspan dx="1.8">)</tspan></text>
<text transform="translate(23.3,381.7) rotate(-90)" font-style="italic" fill="#000" stroke="#000" stroke-width="0.3" font-size="26.67"><tspan x="0" y="0">F</tspan><tspan x="18.3" y="5.0" font-size="18.67">v</tspan><tspan x="31.7" y="3.8" rotate="-1.3" font-size="39.1" font-style="normal" stroke="#fff" stroke-width="1.3">/</tspan><tspan x="44" y="0">F</tspan><tspan x="64.0" y="4.9" font-size="18.67">m</tspan></text>
<rect x="688.15" y="99.9" width="36.15" height="35.1" fill="rgba(190,190,190,0.4)" stroke="#bebebe" stroke-width="1.7"/>
<circle cx="706.4" cy="117.6" r="15.4" fill="#bebebe"/>
<rect x="688.2" y="137.8" width="36.2" height="36" fill="rgba(255,0,0,0.4)" stroke="#f00" stroke-width="1.8"/>
<circle cx="706.4" cy="155.6" r="15.4" fill="#ff0000"/>
<text x="733.2" y="125.4" font-size="21.33" font-style="italic" fill="#000" stroke="#000" stroke-width="0.3">Acropora spp.</text>
<text x="733.2" y="163.2" font-size="21.33" font-style="italic" fill="#000" stroke="#000" stroke-width="0.3">P. verrucosa</text>
</svg>
</body>
</html>
